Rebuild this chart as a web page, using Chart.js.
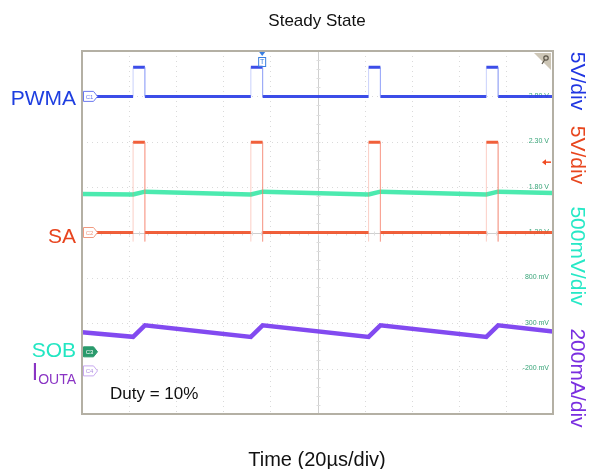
<!DOCTYPE html>
<html>
<head>
<meta charset="utf-8">
<script src="https://cdn.jsdelivr.net/npm/chart.js@4.4.1/dist/chart.umd.min.js"></script>
<style>
  body { margin: 0; background: #fff; }
  #wrap { position: relative; width: 590px; height: 469px; font-family: Arial, "Liberation Sans", sans-serif; }
  #wrap canvas { position: absolute; left: 0; top: 0; }
  .lbl { position: absolute; white-space: nowrap; line-height: 1; }
  .left { right: 514px; transform: translateY(-50%); font-size: 21px; }
  .rot { left: 578px; transform: translate(-50%, -50%) rotate(90deg); font-size: 21px; }
</style>
</head>
<body>
<div id="wrap">
  <canvas id="scope" width="590" height="469"></canvas>
  <div class="lbl" style="left:317px;top:20px;transform:translate(-50%,-50%);font-size:17px;color:#111;">Steady State</div>
  <div class="lbl" style="left:317px;top:459px;transform:translate(-50%,-50%);font-size:20px;color:#111;">Time (20µs/div)</div>
  <div class="lbl left" style="top:97px;color:#1e3ee0;">PWMA</div>
  <div class="lbl left" style="top:235px;color:#e8441e;">SA</div>
  <div class="lbl left" style="top:349px;color:#22e6c2;">SOB</div>
  <div class="lbl left" style="top:372px;color:#8a34c4;"><span style="font-size:23px;">I</span><span style="font-size:14px;position:relative;top:4px;">OUTA</span></div>
  <div class="lbl" style="left:110px;top:393px;transform:translateY(-50%);font-size:17px;color:#111;">Duty = 10%</div>
  <div class="lbl rot" style="top:81px;color:#2036e2;">5V/div</div>
  <div class="lbl rot" style="top:155px;color:#e8461e;">5V/div</div>
  <div class="lbl rot" style="top:256px;color:#26e8c6;">500mV/div</div>
  <div class="lbl rot" style="top:378px;color:#7a2ee0;">200mA/div</div>
</div>
<script>
// time axis in µs (20µs/div, 10 div), vertical axis in divisions (8 div)
const xTicks = [0, 20, 40, 60, 80, 100, 120, 140, 160, 180, 200];
const yTicks = [-4, -3, -2, -1, 0, 1, 2, 3, 4];

// PWM pulse edges (µs)
const pulseOn = [21.7, 71.7, 121.7, 171.7];
const pulseOff = [26.7, 76.7, 126.7, 176.7];

// levels in divisions: [low, high]
const pwmaLevels = [3.0, 3.64];
const saLevels = [0.0, 1.99];
const sobLevels = [0.84, 0.90];
const ioutaLevels = [-2.30, -2.045];
// trace values at the left / right screen edges
const sobEnds = [0.85, 0.87];
const ioutaEnds = [-2.20, -2.18];

// SOB offset readouts on the right edge (500mV/div)
const sobReadoutPos = [3, 2, 1, 0, -1, -2, -3];
const sobReadout = ["2.80 V", "2.30 V", "1.80 V", "1.30 V", "800 mV", "300 mV", "-200 mV"];

function stepTrace(levels) {
  const [lo, hi] = levels;
  const pts = [{ x: 0, y: lo }];
  pulseOn.forEach((on, i) => {
    const off = pulseOff[i];
    pts.push({ x: on, y: lo }, { x: on, y: null }, { x: on, y: hi }, { x: off, y: hi },
      { x: off, y: null }, { x: off, y: lo });
  });
  pts.push({ x: 200, y: lo });
  return pts;
}

function edgeTrace(lo, hi) {
  const pts = [];
  pulseOn.forEach((on, i) => {
    const off = pulseOff[i];
    pts.push({ x: on, y: lo }, { x: on, y: hi }, { x: on, y: null },
      { x: off, y: hi }, { x: off, y: lo }, { x: off, y: null });
  });
  return pts;
}

function rampTrace(levels, ends) {
  const [lo, hi] = levels;
  const pts = [{ x: 0, y: ends[0] }];
  pulseOn.forEach((on, i) => {
    pts.push({ x: on, y: lo }, { x: pulseOff[i], y: hi });
  });
  pts.push({ x: 200, y: ends[1] });
  return pts;
}

const scopeDecor = {
  id: "scopeDecor",
  beforeDatasetsDraw(chart) {
    const { ctx, chartArea: a, scales: { x, y } } = chart;
    ctx.save();
    // dotted graticule
    ctx.strokeStyle = "#dadada";
    ctx.lineWidth = 1;
    ctx.setLineDash([1, 4]);
    xTicks.forEach(t => {
      const px = Math.round(x.getPixelForValue(t)) + 0.5;
      ctx.beginPath(); ctx.moveTo(px, a.top); ctx.lineTo(px, a.bottom); ctx.stroke();
    });
    yTicks.forEach(v => {
      const py = Math.round(y.getPixelForValue(v)) + 0.5;
      ctx.beginPath(); ctx.moveTo(a.left, py); ctx.lineTo(a.right, py); ctx.stroke();
    });
    ctx.setLineDash([]);
    // centre axes with minor ticks
    const cx = Math.round(x.getPixelForValue(100)) + 0.5;
    const cy = Math.round(y.getPixelForValue(0)) + 0.5;
    ctx.strokeStyle = "#cfcfcf";
    ctx.beginPath(); ctx.moveTo(cx, a.top); ctx.lineTo(cx, a.bottom); ctx.stroke();
    ctx.beginPath(); ctx.moveTo(a.left, cy); ctx.lineTo(a.right, cy); ctx.stroke();
    ctx.strokeStyle = "#dedede";
    for (let t = 0; t <= 200; t += 4) {
      const px = Math.round(x.getPixelForValue(t)) + 0.5;
      ctx.beginPath(); ctx.moveTo(px, cy - 2); ctx.lineTo(px, cy + 2); ctx.stroke();
    }
    for (let v = -4; v <= 4.001; v += 0.2) {
      const py = Math.round(y.getPixelForValue(v)) + 0.5;
      ctx.beginPath(); ctx.moveTo(cx - 2, py); ctx.lineTo(cx + 2, py); ctx.stroke();
    }
    // SOB offset readouts
    ctx.font = "7px Arial";
    ctx.textAlign = "right";
    ctx.textBaseline = "bottom";
    ctx.fillStyle = "#3aa67a";
    sobReadoutPos.forEach((v, i) => {
      ctx.fillText(sobReadout[i], a.right - 4, y.getPixelForValue(v) + 3);
    });
    ctx.restore();
  },
  afterDatasetsDraw(chart) {
    const { ctx, chartArea: a, scales: { x, y } } = chart;
    ctx.save();
    // frame
    ctx.strokeStyle = "#b4b0a4";
    ctx.lineWidth = 2;
    ctx.strokeRect(a.left, a.top, a.right - a.left, a.bottom - a.top);
    // channel markers
    const marks = [
      { v: 3.0, txt: "C1", stroke: "#6a78f0", fill: "#fff", tc: "#6a78f0" },
      { v: 0.0, txt: "C2", stroke: "#f09a80", fill: "#fff", tc: "#f09a80" },
      { v: -2.63, txt: "C3", stroke: "#2a9a6c", fill: "#2a9a6c", tc: "#fff" },
      { v: -3.05, txt: "C4", stroke: "#c8a8f0", fill: "#fff", tc: "#b090e0" }
    ];
    ctx.lineWidth = 1;
    marks.forEach(m => {
      const x0 = a.left + 1.5, py = y.getPixelForValue(m.v);
      ctx.beginPath();
      ctx.moveTo(x0, py - 5); ctx.lineTo(x0 + 10, py - 5); ctx.lineTo(x0 + 14, py);
      ctx.lineTo(x0 + 10, py + 5); ctx.lineTo(x0, py + 5); ctx.closePath();
      ctx.fillStyle = m.fill; ctx.fill();
      ctx.strokeStyle = m.stroke; ctx.stroke();
      ctx.fillStyle = m.tc;
      ctx.font = "6px Arial";
      ctx.textAlign = "center"; ctx.textBaseline = "middle";
      ctx.fillText(m.txt, x0 + 6, py + 0.5);
    });
    // trigger position marker
    const tx = x.getPixelForValue(76.5);
    ctx.fillStyle = "#3a7ee0";
    ctx.beginPath(); ctx.moveTo(tx - 3, a.top + 1); ctx.lineTo(tx + 3, a.top + 1); ctx.lineTo(tx, a.top + 5); ctx.closePath(); ctx.fill();
    ctx.strokeStyle = "#3a7ee0";
    ctx.strokeRect(tx - 3.5, a.top + 6.5, 7, 9);
    ctx.font = "7px Arial"; ctx.textAlign = "center"; ctx.textBaseline = "middle";
    ctx.fillText("T", tx, a.top + 11);
    // trigger level arrow
    const ly = y.getPixelForValue(1.55);
    ctx.strokeStyle = "#f04a20"; ctx.fillStyle = "#f04a20"; ctx.lineWidth = 1.5;
    ctx.beginPath(); ctx.moveTo(a.right - 9, ly); ctx.lineTo(a.right - 2, ly); ctx.stroke();
    ctx.beginPath(); ctx.moveTo(a.right - 11, ly); ctx.lineTo(a.right - 7, ly - 3); ctx.lineTo(a.right - 7, ly + 3); ctx.closePath(); ctx.fill();
    // zoom corner icon
    ctx.fillStyle = "#cdc6b6";
    ctx.beginPath(); ctx.moveTo(a.right - 19, a.top + 2); ctx.lineTo(a.right - 2, a.top + 2); ctx.lineTo(a.right - 2, a.top + 19); ctx.closePath(); ctx.fill();
    ctx.strokeStyle = "#5a5448"; ctx.lineWidth = 1.2;
    ctx.beginPath(); ctx.arc(a.right - 7, a.top + 7, 2.2, 0, Math.PI * 2); ctx.stroke();
    ctx.beginPath(); ctx.moveTo(a.right - 8.5, a.top + 9); ctx.lineTo(a.right - 11, a.top + 13); ctx.stroke();
    ctx.restore();
  }
};

const lineDs = (label, data, color, width) => ({
  label, data, borderColor: color, borderWidth: width, pointRadius: 0,
  tension: 0, spanGaps: false, fill: false
});

new Chart(document.getElementById("scope"), {
  type: "line",
  data: {
    datasets: [
      lineDs("PWMA edges", edgeTrace(pwmaLevels[0], pwmaLevels[1]), "rgba(120,140,245,0.4)", 1),
      lineDs("SA edges", edgeTrace(saLevels[0] - 0.2, saLevels[1]), "rgba(245,130,110,0.4)", 1),
      lineDs("PWMA", stepTrace(pwmaLevels), "rgba(43,62,230,0.92)", 3),
      lineDs("SA", stepTrace(saLevels), "rgba(240,82,42,0.92)", 3),
      lineDs("SOB", rampTrace(sobLevels, sobEnds), "rgba(56,232,166,0.9)", 4.5),
      lineDs("IOUTA", rampTrace(ioutaLevels, ioutaEnds), "rgba(116,54,238,0.9)", 4.5)
    ]
  },
  options: {
    responsive: false,
    animation: false,
    layout: { padding: { left: 82, top: 51, right: 37, bottom: 55 } },
    plugins: { legend: { display: false }, tooltip: { enabled: false } },
    scales: {
      x: { type: "linear", min: 0, max: 200, display: false },
      y: { type: "linear", min: -4, max: 4, display: false }
    }
  },
  plugins: [scopeDecor]
});
</script>
</body>
</html>
